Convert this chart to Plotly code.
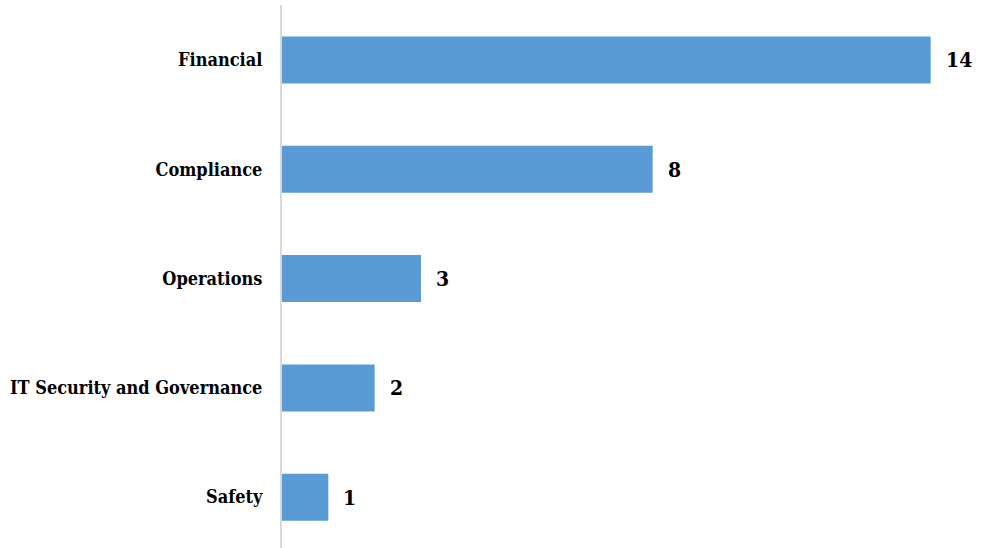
import plotly.graph_objects as go

categories = ["Financial", "Compliance", "Operations", "IT Security and Governance", "Safety"]
values = [14, 8, 3, 2, 1]

font_family = "DejaVu Serif Condensed"

fig = go.Figure()
fig.add_trace(go.Bar(
    x=values,
    y=categories,
    orientation="h",
    marker=dict(color="#5B9BD5", line=dict(width=0)),
    width=0.43,
    hoverinfo="skip",
))

for c, v in zip(categories, values):
    fig.add_annotation(
        x=v, y=c, xref="x", yref="y",
        text="<b>%d</b>" % v,
        showarrow=False,
        xanchor="left",
        xshift=13,
        font=dict(family=font_family, size=21, color="#000000"),
    )

fig.update_layout(
    width=981,
    height=548,
    margin=dict(l=282, r=4, t=5, b=0),
    paper_bgcolor="white",
    plot_bgcolor="white",
    showlegend=False,
    xaxis=dict(
        range=[0, 15.0],
        visible=False,
        showgrid=False,
        zeroline=False,
    ),
    yaxis=dict(
        categoryorder="array",
        categoryarray=categories[::-1],
        range=[-0.465, 4.503],
        showgrid=False,
        zeroline=False,
        showline=True,
        linecolor="#D9D9D9",
        linewidth=2,
        ticks="outside",
        ticklen=14,
        tickcolor="rgba(0,0,0,0)",
        tickfont=dict(family=font_family, size=18, color="#000000", weight="bold"),
    ),
)

fig.write_html(
    "out.html",
    config={"displayModeBar": False},
    post_script="document.body.style.margin='0';document.body.style.padding='0';",
)
